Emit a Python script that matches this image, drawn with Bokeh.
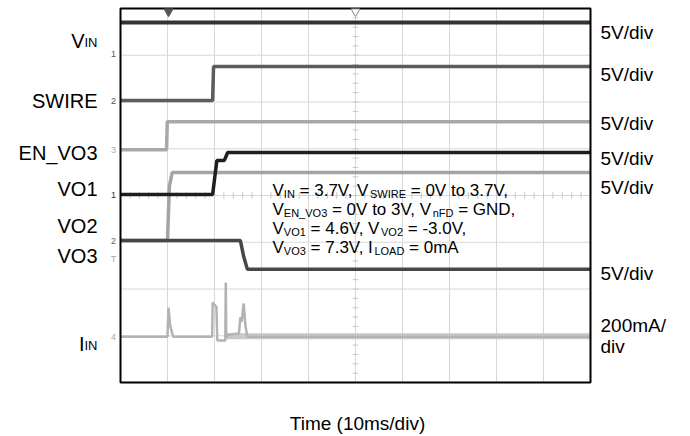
from bokeh.plotting import figure
from bokeh.models import Range1d, Label
from bokeh.embed import file_html
from bokeh.resources import INLINE

# ---- data: time in ms (10 ms/div), level in screen divisions (0..8) ----
vin_t = [0, 100]
vin_v = [7.70, 7.70]
swire_t = [0, 19.6, 19.8, 100]
swire_v = [6.03, 6.03, 6.76, 6.76]
en_t = [0, 9.8, 9.95, 100]
en_v = [4.98, 4.98, 5.58, 5.58]
vo1_t = [0, 19.6, 20.5, 22.1, 22.8, 100]
vo1_v = [4.02, 4.02, 4.75, 4.75, 4.92, 4.92]
vo2_t = [0, 10.0, 10.4, 11.0, 100]
vo2_v = [3.04, 3.04, 4.20, 4.49, 4.49]
vo3_t = [0, 25.5, 26.2, 27.0, 100]
vo3_v = [3.04, 3.04, 2.70, 2.42, 2.42]
iin_t = [0, 10.0, 10.2, 10.6, 11.2, 19.5, 19.6, 20.4, 20.6, 22.3, 22.4, 22.5,
         23.0, 25.2, 25.5, 25.8, 26.2, 26.6, 27.0, 100]
iin_v = [0.98, 0.98, 1.60, 1.20, 0.98, 0.98, 1.71, 1.62, 0.90, 0.90, 2.14, 0.98,
         1.02, 1.05, 1.40, 1.30, 1.69, 1.20, 0.98, 0.98]
iin_band_t = [22.5, 100]
iin_band_v = [0.99, 0.99]

grid_x = [0, 10, 20, 30, 40, 50, 60, 70, 80, 90, 100]
grid_y = [0, 1, 2, 3, 4, 5, 6, 7, 8]

left_labels = [("V", "IN"), ("SWIRE", ""), ("EN_VO3", ""), ("VO1", ""),
               ("VO2", ""), ("VO3", ""), ("I", "IN")]
right_labels = ["5V/div", "5V/div", "5V/div", "5V/div", "5V/div", "5V/div",
                "200mA/", "div"]
note_lines = [
    [("V", 0), ("IN", 1), (" = 3.7V, V", 0), ("SWIRE", 1), (" = 0V to 3.7V,", 0)],
    [("V", 0), ("EN_VO3", 1), (" = 0V to 3V, V", 0), ("nFD", 1), (" = GND,", 0)],
    [("V", 0), ("VO1", 1), (" = 4.6V, V", 0), ("VO2", 1), (" = -3.0V,", 0)],
    [("V", 0), ("VO3", 1), (" = 7.3V, I", 0), ("LOAD", 1), (" = 0mA", 0)],
]
x_title = "Time (10ms/div)"
channel_marks = ["1", "2", "3", "1", "2", "T", "4"]

FONT = "Liberation Sans"

# pixel helpers (scope screen: x 120..590, y 8..382)
def x_of(px):
    return (px - 120) / 4.7

def y_of(py):
    return (382 - py) / 46.75

W = {' ': 278, ',': 278, '.': 278, '-': 333, '=': 584, 'V': 667, 'I': 278,
     'N': 722, 'S': 667, 'W': 944, 'R': 722, 'E': 667, 'O': 778, 'G': 778,
     'D': 722, 'L': 556, 'A': 667, 'n': 556, 'F': 611, 'm': 833, 't': 278,
     'o': 556, '_': 556}
def text_w(s, size):
    return sum(W.get(c, 556) for c in s) / 1000.0 * size

p = figure(width=690, height=436,
           x_range=Range1d(x_of(0), x_of(690)), y_range=Range1d(y_of(436), y_of(0)),
           output_backend="svg", toolbar_location=None,
           min_border=0, min_border_left=0, min_border_right=0,
           min_border_top=0, min_border_bottom=0,
           background_fill_color="white", border_fill_color="white")
p.xaxis.visible = False
p.yaxis.visible = False
p.xgrid.visible = False
p.ygrid.visible = False
p.outline_line_color = None

# scope graticule
p.segment(grid_x, [grid_y[0]] * len(grid_x), grid_x, [grid_y[-1]] * len(grid_x),
          line_color="#d8d8d8", line_width=1)
p.segment([grid_x[0]] * len(grid_y), grid_y, [grid_x[-1]] * len(grid_y), grid_y,
          line_color="#d8d8d8", line_width=1)

# minor ticks on centre lines
xs0, xs1, ys0, ys1 = [], [], [], []
cx = (grid_x[0] + grid_x[-1]) / 2
cy = (grid_y[0] + grid_y[-1]) / 2
for k in range(1, 40):
    yy = k * 0.2
    xs0.append(cx - 0.6); xs1.append(cx + 0.6); ys0.append(yy); ys1.append(yy)
for k in range(1, 50):
    xx = k * 2.0
    xs0.append(xx); xs1.append(xx); ys0.append(cy - 0.07); ys1.append(cy + 0.07)
p.segment(xs0, ys0, xs1, ys1, line_color="#c8c8c8", line_width=1)

# traces
p.line(iin_band_t, iin_band_v, line_color="#c9c9c9", line_width=6)
p.line(iin_t, iin_v, line_color="#b3b3b3", line_width=2.5)
p.line(en_t, en_v, line_color="#a8a8a8", line_width=3.5)
p.line(vo2_t, vo2_v, line_color="#a4a4a4", line_width=3.5)
p.line(swire_t, swire_v, line_color="#5c5c5c", line_width=3.5)
p.line(vo1_t, vo1_v, line_color="#1e1e1e", line_width=3.5)
p.line(vo3_t, vo3_v, line_color="#474747", line_width=3.5)
p.line(vin_t, vin_v, line_color="#333333", line_width=4)

# scope border
p.quad(left=[grid_x[0]], right=[grid_x[-1]], bottom=[grid_y[0]], top=[grid_y[-1]],
       fill_color=None, line_color="black", line_width=2)

# trigger markers at top
p.scatter([x_of(168)], [y_of(11)], marker="inverted_triangle", size=9,
          fill_color="#555555", line_color="#555555")
p.scatter([x_of(355)], [y_of(11)], marker="inverted_triangle", size=9,
          fill_color="white", line_color="#888888")

def add_text(px, py, s, size, align="left", baseline="alphabetic", color="black"):
    p.add_layout(Label(x=x_of(px), y=y_of(py), text=s, text_align=align,
                       text_baseline=baseline, text_font=FONT,
                       text_font_size=f"{size}px", text_color=color))

# left labels
left_base = [40, 100, 152, 188, 225, 255, 343]
for (main, sub), base in zip(left_labels, left_base):
    if sub:
        add_text(97, base + 1.5, sub, 13, align="right")
        add_text(97 - text_w(sub, 13), base, main, 20, align="right")
    else:
        add_text(97, base, main, 20, align="right")

# channel markers just left of the screen
mark_y = [53, 100, 149, 194, 240, 258, 336]
mark_c = ["#555555", "#555555", "#aaaaaa", "#333333", "#666666", "#aaaaaa", "#aaaaaa"]
for m, yy, c in zip(channel_marks, mark_y, mark_c):
    add_text(113, yy, m, 9, align="center", baseline="middle", color=c)

# right labels
right_base = [32, 74, 123, 158, 187, 273, 325, 346]
for t, base in zip(right_labels, right_base):
    add_text(600, base, t, 19)

# condition note
note_base = [190, 209, 228, 247]
MS, SS = 17, 11
for runs, base in zip(note_lines, note_base):
    xp = 272.0
    for s, is_sub in runs:
        size = SS if is_sub else MS
        yy = base + 3 if is_sub else base
        lead = len(s) - len(s.lstrip(" "))
        add_text(xp + text_w(s[:lead], size), yy, s.strip(" "), size)
        xp += text_w(s, size)

# x title
add_text(357, 423, x_title, 19, align="center")

open("out.html", "w").write(file_html(p, INLINE))
